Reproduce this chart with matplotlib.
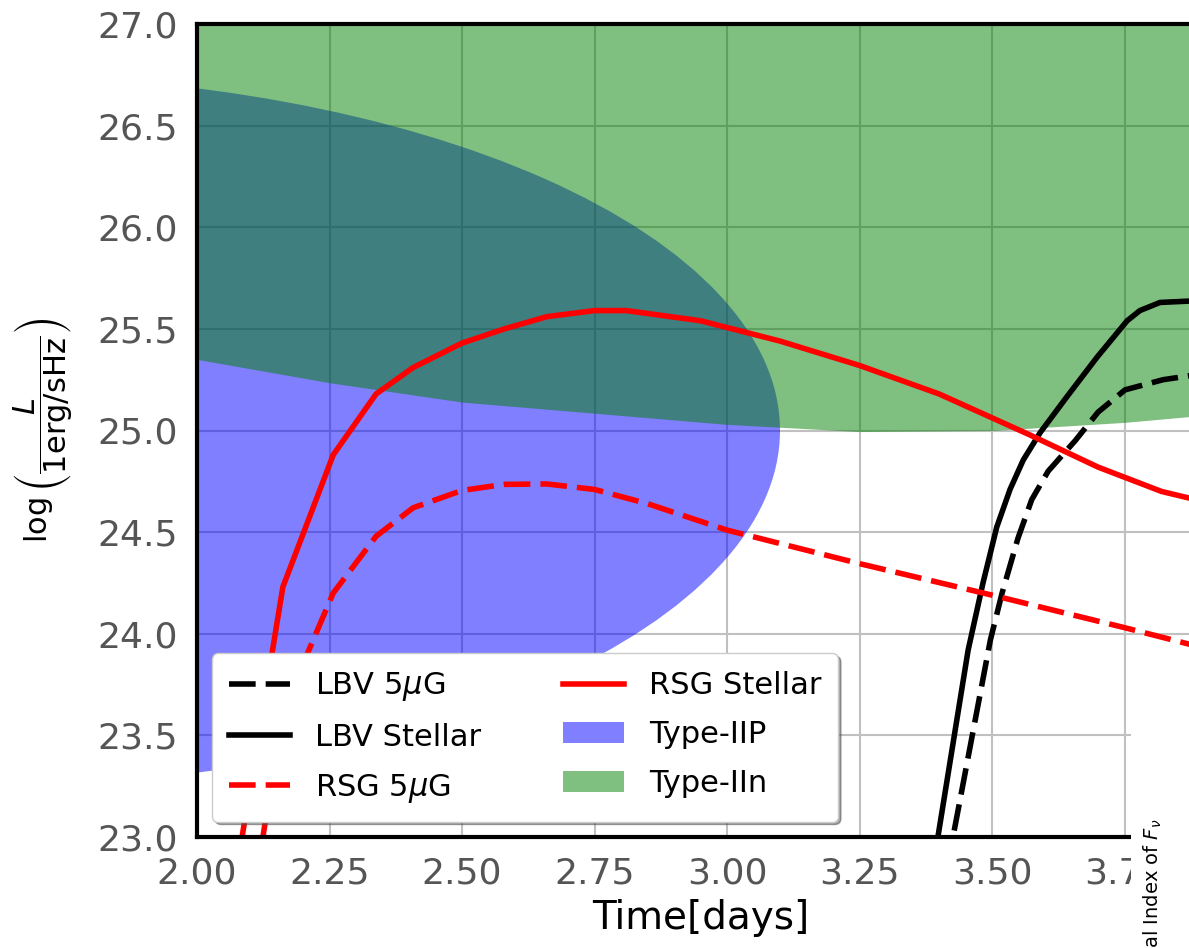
import matplotlib
matplotlib.use("Agg")
import matplotlib.pyplot as plt
from matplotlib.patches import Ellipse, Patch

# --- light curves: log time vs log luminosity ---------------------------
rsg_stellar_t = [2.06, 2.162, 2.257, 2.338, 2.408, 2.50, 2.58, 2.66, 2.75,
                 2.81, 2.95, 3.10, 3.25, 3.40, 3.57, 3.70, 3.82, 3.90]
rsg_stellar_L = [22.6, 24.23, 24.88, 25.18, 25.31, 25.43, 25.50, 25.56, 25.59,
                 25.59, 25.54, 25.44, 25.32, 25.18, 24.98, 24.82, 24.70, 24.65]

rsg_5uG_t = [2.10, 2.162, 2.257, 2.338, 2.408, 2.50, 2.58, 2.66, 2.75,
             2.85, 3.00, 3.25, 3.50, 3.75, 3.90]
rsg_5uG_L = [22.6, 23.62, 24.20, 24.48, 24.62, 24.705, 24.735, 24.737, 24.71,
             24.64, 24.51, 24.345, 24.19, 24.03, 23.93]

lbv_stellar_t = [3.37, 3.455, 3.483, 3.509, 3.534, 3.559, 3.591, 3.641, 3.698,
                 3.755, 3.779, 3.817, 3.90]
lbv_stellar_L = [22.55, 23.92, 24.25, 24.525, 24.71, 24.855, 24.99, 25.165, 25.36,
                 25.54, 25.59, 25.63, 25.64]

lbv_5uG_t = [3.39, 3.497, 3.519, 3.549, 3.575, 3.606, 3.657, 3.70, 3.751, 3.823, 3.90]
lbv_5uG_L = [22.5, 23.97, 24.20, 24.47, 24.66, 24.80, 24.95, 25.09, 25.20, 25.25, 25.28]

# --- observed supernova populations --------------------------------------
# Type-IIP: elliptical region (centre, full width, full height)
iip_center = (1.5875, 25.0)
iip_width = 3.025
iip_height = 3.50

# Type-IIn: everything above a lower bounding curve
iin_t = [2.0, 2.25, 2.5, 2.75, 3.0, 3.25, 3.5, 3.75, 3.9]
iin_lower = [25.35, 25.235, 25.14, 25.085, 25.03, 24.995, 25.0, 25.04, 25.075]
iin_upper = 27.0

labels = ["LBV 5$\\mu$G", "LBV Stellar", "RSG 5$\\mu$G",
          "RSG Stellar", "Type-IIP", "Type-IIn"]

x_ticks = [2.00, 2.25, 2.50, 2.75, 3.00, 3.25, 3.50, 3.75]
y_ticks = [23.0, 23.5, 24.0, 24.5, 25.0, 25.5, 26.0, 26.5, 27.0]

W, H, DPI = 1189, 948, 100
fig = plt.figure(figsize=(W / DPI, H / DPI), dpi=DPI, facecolor="white")

x_lo, x_hi = 2.0, 3.9
px_per_unit = 530.0
ax = fig.add_axes([197 / W, 111 / H, (x_hi - x_lo) * px_per_unit / W, 813 / H])
ax.set_facecolor("white")

lw = 4.0
dash = (4.8, 1.8)
ln_lbv5, = ax.plot(lbv_5uG_t, lbv_5uG_L, color="black", lw=lw, ls="--", dashes=dash)
ln_lbvs, = ax.plot(lbv_stellar_t, lbv_stellar_L, color="black", lw=lw)
ln_rsg5, = ax.plot(rsg_5uG_t, rsg_5uG_L, color="red", lw=lw, ls="--", dashes=dash)
ln_rsgs, = ax.plot(rsg_stellar_t, rsg_stellar_L, color="red", lw=lw)

iip = Ellipse(iip_center, iip_width, iip_height, facecolor="blue", alpha=0.5,
              edgecolor="none", zorder=1)
ax.add_patch(iip)
iin = ax.fill_between(iin_t, iin_lower, iin_upper, color="green", alpha=0.5,
                      linewidth=0, zorder=1)

ax.set_xlim(x_lo, x_hi)
ax.set_ylim(23.0, 27.0)
ax.set_xticks(x_ticks)
ax.set_yticks(y_ticks)
ax.grid(True, color="#c0c0c0", lw=1.5)
ax.set_axisbelow(True)
ax.tick_params(length=0, labelsize=26, labelcolor="#555555", pad=14)
for s in ax.spines.values():
    s.set_linewidth(3)
    s.set_color("black")

ax.set_xlabel("Time[days]", fontsize=28, labelpad=6)
ax.set_ylabel(r"$\log\left(\dfrac{L}{1\mathrm{erg/sHz}}\right)$", fontsize=22, labelpad=16)

handles = [ln_lbv5, ln_lbvs, ln_rsg5, ln_rsgs,
           Patch(facecolor="blue", alpha=0.5), Patch(facecolor="green", alpha=0.5)]
leg = ax.legend(handles, labels, loc="lower left", ncol=2, fontsize=22,
                frameon=True, fancybox=True, shadow=True, framealpha=1,
                labelspacing=0.65, borderpad=0.55, columnspacing=2.7)
leg.get_frame().set_edgecolor("#cccccc")

# neighbouring spectral-index panel, mostly beyond the canvas
ax2 = fig.add_axes([1131 / W, -0.2, 0.3, 0.2 + (948 - 690) / H])
ax2.set_facecolor("white")
ax2.set_xticks([])
ax2.set_yticks([])
for s in ax2.spines.values():
    s.set_visible(False)
fig.text(1152 / W, (948 - 915) / H, "Spectral Index of $F_\\nu$", rotation=90,
         ha="center", va="center", fontsize=14)

fig.savefig("out.png", dpi=DPI, facecolor="white")
